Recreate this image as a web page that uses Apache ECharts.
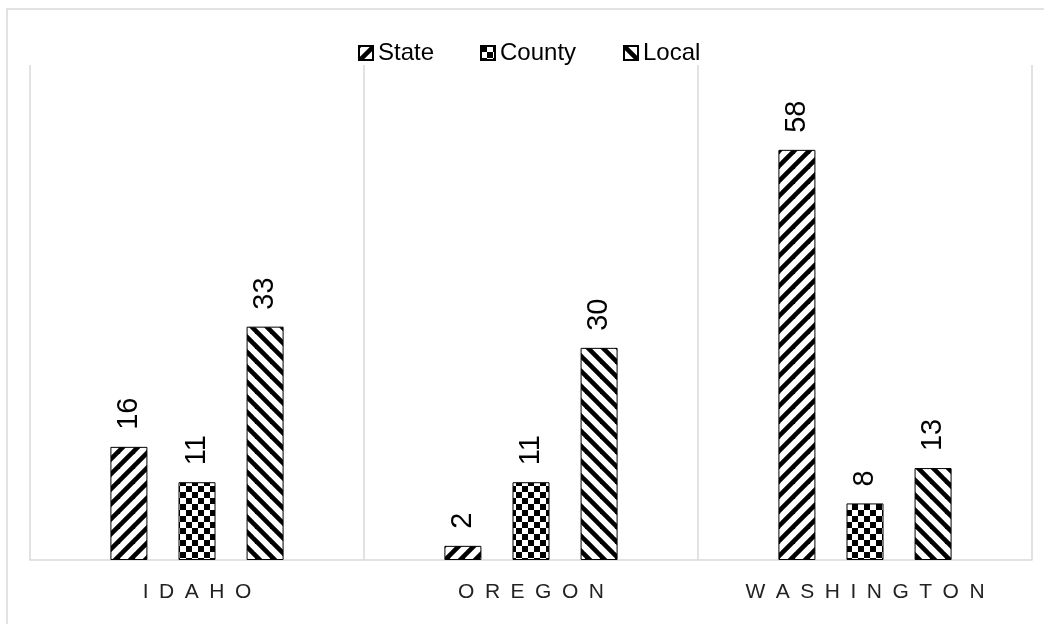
<!DOCTYPE html>
<html>
<head>
<meta charset="utf-8">
<script src="https://cdn.jsdelivr.net/npm/echarts@6/dist/echarts.min.js"></script>
<style>
  html, body { margin: 0; padding: 0; background: #fff; }
  #chart { width: 1044px; height: 624px; }
</style>
</head>
<body>
<div id="chart"></div>
<script>
var categories = ['IDAHO', 'OREGON', 'WASHINGTON'];
var seriesNames = ['State', 'County', 'Local'];
var stateValues = [16, 2, 58];
var countyValues = [11, 11, 8];
var localValues = [33, 30, 13];

var FONT = '"Liberation Sans", "DejaVu Sans", sans-serif';

// spread the category letters out like the original
function spaced(s) {
  return s.split('').join('\u2002');
}

function stripes(dir) {
  var p = 15;
  var c = document.createElement('canvas');
  c.width = p; c.height = p;
  var ctx = c.getContext('2d');
  ctx.fillStyle = '#fff';
  ctx.fillRect(0, 0, p, p);
  ctx.strokeStyle = '#000';
  ctx.lineWidth = 4.6;
  for (var k = -1; k <= 1; k++) {
    ctx.beginPath();
    if (dir === 'up') {
      ctx.moveTo(k * p - p, 2 * p);
      ctx.lineTo(k * p + 2 * p, -p);
    } else {
      ctx.moveTo(k * p - p, -p);
      ctx.lineTo(k * p + 2 * p, 2 * p);
    }
    ctx.stroke();
  }
  return c;
}

function checker() {
  var s = 6;
  var c = document.createElement('canvas');
  c.width = s * 2; c.height = s * 2;
  var ctx = c.getContext('2d');
  ctx.fillStyle = '#fff';
  ctx.fillRect(0, 0, s * 2, s * 2);
  ctx.fillStyle = '#000';
  ctx.fillRect(0, 0, s, s);
  ctx.fillRect(s, s, s, s);
  return c;
}

var chart = echarts.init(document.getElementById('chart'));

var label = {
  show: true,
  position: 'top',
  rotate: 90,
  align: 'left',
  verticalAlign: 'middle',
  distance: 17,
  color: '#000',
  fontSize: 29,
  fontFamily: FONT
};

function bar(name, data, pattern) {
  return {
    name: name,
    type: 'bar',
    data: data,
    barWidth: 37,
    barGap: '84%',
    itemStyle: {
      color: { image: pattern, repeat: 'repeat' },
      borderColor: '#000',
      borderWidth: 1
    },
    label: label,
    emphasis: { disabled: true }
  };
}

var legendLefts = [358, 480, 623];

function legendItem(i) {
  return {
    left: legendLefts[i],
    top: 41,
    padding: 0,
    itemWidth: 14,
    itemHeight: 14,
    itemGap: 4,
    icon: 'rect',
    selectedMode: false,
    textStyle: { fontSize: 24, color: '#000', fontFamily: FONT },
    data: [seriesNames[i]]
  };
}

var option = {
  backgroundColor: '#fff',
  animation: false,
  graphic: [{
    type: 'rect',
    shape: { x: 7, y: 9, width: 1100, height: 700 },
    style: { fill: 'none', stroke: '#d9d9d9', lineWidth: 1.5 },
    silent: true
  }],
  legend: [legendItem(0), legendItem(1), legendItem(2)],
  grid: { left: 30, right: 12, top: 65, bottom: 64 },
  xAxis: {
    type: 'category',
    data: categories,
    axisLine: { lineStyle: { color: '#d9d9d9', width: 1.5 } },
    axisTick: { show: false },
    splitLine: { show: true, lineStyle: { color: '#d9d9d9', width: 1.5 } },
    axisLabel: {
      margin: 22,
      fontSize: 21,
      color: '#222',
      fontFamily: FONT,
      formatter: spaced
    }
  },
  yAxis: {
    type: 'value',
    min: 0,
    max: 70,
    show: false,
    splitLine: { show: false }
  },
  series: [
    bar(seriesNames[0], stateValues, stripes('up')),
    bar(seriesNames[1], countyValues, checker()),
    bar(seriesNames[2], localValues, stripes('down'))
  ]
};

chart.setOption(option);
</script>
</body>
</html>
